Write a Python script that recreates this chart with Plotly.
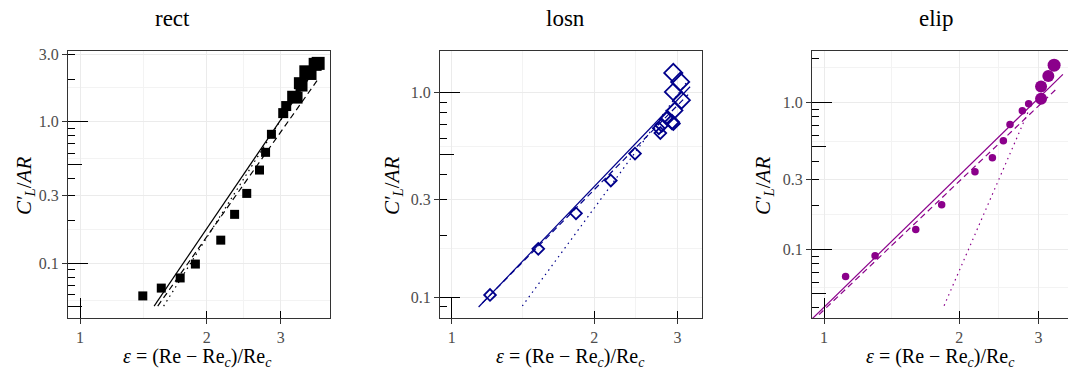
import plotly.graph_objects as go

# ---------------- data ----------------
panels = ["rect", "losn", "elip"]

rect_x = [1.41, 1.56, 1.73, 1.88, 2.16, 2.33, 2.49, 2.67, 2.76, 2.85, 3.04, 3.09, 3.21, 3.27, 3.33, 3.36, 3.44, 3.52, 3.62, 3.68]
rect_y = [0.059, 0.067, 0.079, 0.099, 0.146, 0.222, 0.312, 0.456, 0.608, 0.815, 1.15, 1.29, 1.50, 1.48, 1.87, 1.80, 2.25, 2.19, 2.54, 2.58]
rect_size = [9, 9, 9, 9, 9, 9, 9, 9, 9, 9, 10, 10, 12, 12, 12, 12, 13, 13, 13, 13]

losn_x = [1.205, 1.524, 1.831, 2.169, 2.44, 2.74, 2.76, 2.78, 2.85, 2.92, 2.94, 2.96, 3.06, 2.94, 3.04, 2.94]
losn_y = [0.103, 0.173, 0.258, 0.373, 0.505, 0.671, 0.636, 0.695, 0.749, 0.72, 0.708, 0.82, 0.92, 1.01, 1.13, 1.25]
losn_size = [9, 9, 9, 9, 9, 9, 9, 10, 10, 11, 10, 12, 13, 13, 14, 14]

elip_x = [1.117, 1.299, 1.600, 1.827, 2.167, 2.369, 2.506, 2.593, 2.762, 2.853, 3.04, 3.04, 3.155, 3.25]
elip_y = [0.0653, 0.0905, 0.137, 0.2015, 0.338, 0.421, 0.551, 0.710, 0.881, 0.984, 1.065, 1.288, 1.52, 1.80]
elip_size = [7.5, 7.5, 7.5, 7.5, 7.5, 7.5, 7.5, 7.5, 7.5, 7.5, 12, 12, 12, 13]

# fitted power laws (end points)
rect_solid_x, rect_solid_y = [1.50, 3.62], [0.050, 2.35]
rect_dash_x, rect_dash_y = [1.53, 3.68], [0.050, 2.00]
rect_dot_x, rect_dot_y = [1.58, 3.62], [0.050, 2.50]

losn_solid_x, losn_solid_y = [1.14, 3.19], [0.090, 1.07]
losn_dash_x, losn_dash_y = [1.16, 3.16], [0.094, 0.98]
losn_dot_x, losn_dot_y = [1.41, 3.16], [0.091, 1.15]

elip_solid_x, elip_solid_y = [0.93, 3.40], [0.0325, 1.56]
elip_dash_x, elip_dash_y = [0.975, 3.27], [0.036, 1.22]
elip_dot_x, elip_dot_y = [1.85, 2.85], [0.0414, 0.876]

x_ticks = [1, 2, 3]
x_ticklabels = ["1", "2", "3"]
y_ticks = [[0.1, 0.3, 1.0, 3.0], [0.1, 0.3, 1.0], [0.1, 0.3, 1.0]]
y_ticklabels = [["0.1", "0.3", "1.0", "3.0"], ["0.1", "0.3", "1.0"], ["0.1", "0.3", "1.0"]]

x_minor_grid = [1.414, 2.449]
y_minor_grid = [0.0548, 0.173, 0.548, 1.732]

log_long = [0.01, 0.1, 1, 10]
log_mid = [0.05, 0.5, 5]
log_short = [0.02, 0.03, 0.04, 0.06, 0.07, 0.08, 0.09, 0.2, 0.3, 0.4, 0.6, 0.7, 0.8, 0.9, 2, 3, 4, 6, 7, 8, 9]

# ---------------- layout geometry ----------------
W, H = 1068, 373
panel_px = [(68, 330), (440, 702), (812, 1068)]
top_px, bot_px = 51, 318
PH = bot_px - top_px
x_ranges = [[-0.0285, 0.594], [-0.0247, 0.529], [-0.0267, 0.5428]]
y_ranges = [[-1.385, 0.499], [-1.0995, 0.204], [-1.467, 0.352]]

colors = ["black", "#00008B", "#8B008B"]
FONT = "Liberation Serif"
TICKCOL = "#333333"


def py(ypx):
    """pixel row -> paper y (paper spans the plotting area)"""
    return (bot_px - ypx) / PH


series = [
    (rect_x, rect_y, rect_size, "square", (rect_solid_x, rect_solid_y), (rect_dash_x, rect_dash_y), (rect_dot_x, rect_dot_y)),
    (losn_x, losn_y, losn_size, "diamond-open", (losn_solid_x, losn_solid_y), (losn_dash_x, losn_dash_y), (losn_dot_x, losn_dot_y)),
    (elip_x, elip_y, elip_size, "circle", (elip_solid_x, elip_solid_y), (elip_dash_x, elip_dash_y), (elip_dot_x, elip_dot_y)),
]

fig = go.Figure()
layout = dict(
    width=W, height=H,
    margin=dict(l=0, r=0, t=top_px, b=H - bot_px, pad=0),
    paper_bgcolor="white", plot_bgcolor="white",
    showlegend=False,
    font=dict(family=FONT, color="#4D4D4D", size=16),
)
annotations = []

for i, (xs, ys, sz, sym, sol, das, dot) in enumerate(series):
    n = i + 1
    xa = "x" if n == 1 else f"x{n}"
    ya = "y" if n == 1 else f"y{n}"
    col = colors[i]
    xo = 3 + n            # 4,5,6
    yo_a = 6 + 2 * n - 1  # 7,9,11
    yo_b = 6 + 2 * n      # 8,10,12

    for (lx, ly), dash in [(sol, "solid"), (das, "6px,4px"), (dot, "1.5px,4px")]:
        fig.add_trace(go.Scatter(x=lx, y=ly, mode="lines", xaxis=xa, yaxis=ya,
                                 line=dict(color=col, width=1.2, dash=dash),
                                 hoverinfo="skip"))
    if sym == "diamond-open":
        mk = dict(symbol=sym, size=sz, color=col, opacity=1, line=dict(color=col, width=1.8))
    else:
        mk = dict(symbol=sym, size=sz, color=col, opacity=1, line=dict(width=0))
    fig.add_trace(go.Scatter(x=xs, y=ys, mode="markers", xaxis=xa, yaxis=ya, marker=mk))

    # empty traces so overlay axes get drawn
    fig.add_trace(go.Scatter(x=[], y=[], xaxis=f"x{xo}", yaxis=ya, hoverinfo="skip"))
    fig.add_trace(go.Scatter(x=[], y=[], xaxis=xa, yaxis=f"y{yo_a}", hoverinfo="skip"))
    fig.add_trace(go.Scatter(x=[], y=[], xaxis=xa, yaxis=f"y{yo_b}", hoverinfo="skip"))

    x0, x1 = panel_px[i]
    dom = [x0 / W, x1 / W]
    xkey = "xaxis" if n == 1 else f"xaxis{n}"
    ykey = "yaxis" if n == 1 else f"yaxis{n}"

    layout[xkey] = dict(
        domain=dom, type="log", range=x_ranges[i], anchor=ya,
        tickmode="array", tickvals=x_ticks, ticktext=x_ticklabels,
        ticks="outside", ticklen=5, tickwidth=1, tickcolor=TICKCOL,
        showline=True, linecolor=TICKCOL, linewidth=1, mirror=True,
        showgrid=True, gridcolor="#EBEBEB", gridwidth=1, zeroline=False,
        minor=dict(tickmode="array", tickvals=x_minor_grid, showgrid=True,
                   gridcolor="#F3F3F3", gridwidth=1, ticks=""),
        tickfont=dict(family=FONT, size=16, color="#4D4D4D"),
        fixedrange=True,
    )
    layout[ykey] = dict(
        type="log", range=y_ranges[i], anchor=xa, domain=[0, 1],
        tickmode="array", tickvals=y_ticks[i], ticktext=y_ticklabels[i],
        ticks="outside", ticklen=5, tickwidth=1, tickcolor=TICKCOL,
        showline=True, linecolor=TICKCOL, linewidth=1, mirror=(n != 3),
        showgrid=True, gridcolor="#EBEBEB", gridwidth=1, zeroline=False,
        minor=dict(tickmode="array", tickvals=y_minor_grid, showgrid=True,
                   gridcolor="#F3F3F3", gridwidth=1, ticks=""),
        tickfont=dict(family=FONT, size=16, color="#4D4D4D"),
        fixedrange=True,
    )
    layout[f"xaxis{xo}"] = dict(
        overlaying=xa, anchor=ya, side="bottom", type="log", range=x_ranges[i],
        tickmode="array", tickvals=log_long, ticks="inside", ticklen=20, tickwidth=1.1,
        tickcolor="black", showticklabels=False, showgrid=False, zeroline=False, showline=False,
        minor=dict(tickmode="array", tickvals=log_short, ticks="inside", ticklen=7,
                   tickwidth=1.1, tickcolor="black", showgrid=False),
        fixedrange=True,
    )
    layout[f"yaxis{yo_a}"] = dict(
        overlaying=ya, anchor=xa, side="left", type="log", range=y_ranges[i],
        tickmode="array", tickvals=log_long, ticks="inside", ticklen=20, tickwidth=1.1,
        tickcolor="black", showticklabels=False, showgrid=False, zeroline=False, showline=False,
        minor=dict(tickmode="array", tickvals=log_mid, ticks="inside", ticklen=14,
                   tickwidth=1.1, tickcolor="black", showgrid=False),
        fixedrange=True,
    )
    layout[f"yaxis{yo_b}"] = dict(
        overlaying=ya, anchor=xa, side="left", type="log", range=y_ranges[i],
        tickmode="array", tickvals=log_short, ticks="inside", ticklen=7, tickwidth=1.1,
        tickcolor="black", showticklabels=False, showgrid=False, zeroline=False, showline=False,
        fixedrange=True,
    )

    # titles
    title_cx = [172, 565, 936][i]
    annotations.append(dict(text=panels[i], x=title_cx / W, y=py(19), xref="paper", yref="paper",
                            yanchor="middle", xanchor="center", showarrow=False,
                            font=dict(family=FONT, size=23, color="black")))
    xt_cx = [197, 570, 940][i]
    annotations.append(dict(text="<i>ε</i> = (Re − Re<sub><i>c</i></sub>)/Re<sub><i>c</i></sub>",
                            x=xt_cx / W, y=py(357),
                            xref="paper", yref="paper", xanchor="center", yanchor="middle",
                            showarrow=False, font=dict(family=FONT, size=20, color="black")))
    ytitle_x = [25, 393, 764][i]
    annotations.append(dict(text="<i>C′<sub>L</sub></i>/<i>AR</i>", x=ytitle_x / W, y=py(186),
                            xref="paper", yref="paper", xanchor="center", yanchor="middle",
                            textangle=-90, showarrow=False,
                            font=dict(family=FONT, size=21, color="black")))

layout["annotations"] = annotations
fig.update_layout(**layout)
fig.write_html("out.html", config={"displayModeBar": False})
